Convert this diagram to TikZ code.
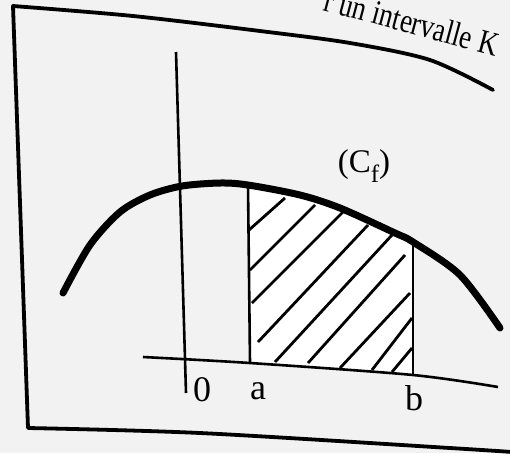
\documentclass[tikz,border=0pt]{standalone}
\usepackage{fontspec}
\setmainfont{Liberation Serif}
\newfontfamily\condensedserif[FakeStretch=0.8]{Liberation Serif}
\begin{document}
\begin{tikzpicture}[x=1pt,y=-1pt,
  frameline/.style={line width=3.8pt, line join=round, line cap=round},
  axisline/.style={line width=2.6pt},
  curveline/.style={line width=7pt, line cap=round},
  hatchline/.style={line width=2.8pt},
  lbl/.style={font=\fontsize{36}{36}\selectfont, inner sep=0pt}]
\clip (0,0) rectangle (510,453);
\fill[black!5] (0,0) rectangle (510,453);
% frame
\draw[frameline] plot[smooth] coordinates {(493,90) (430,60) (350,43) (260,31) (133,16) (13,6)}
  -- (28,428) plot[smooth] coordinates {(28,428) (200,433) (450,448) (512,452)};
% hatched region fill
\fill[white] plot[smooth] coordinates {(248,185) (300,195) (340,208) (395,233) (413,242)}
  -- (413,375) -- (250,363) -- cycle;
% hatching
\foreach \p/\q in {{(249,230)}/{(285,198)}, {(250,270)}/{(315,205)}, {(252,303)}/{(343,212)},
  {(258,342)}/{(368,225)}, {(275,362)}/{(392,235)}, {(308,363)}/{(405,255)},
  {(340,368)}/{(410,293)}, {(372,370)}/{(412,318)}, {(392,372)}/{(412,348)}}
  \draw[hatchline] \p -- \q;
% axes
\coordinate (ytop) at (176,52);
\coordinate (ybot) at (186,393);
\draw[axisline] (ytop) -- (ybot);
\draw[axisline] plot[smooth] coordinates {(143,357) (250,363) (413,375) (498,387)};
% vertical lines at a and b
\coordinate (atop) at (248,185);
\coordinate (abot) at (250,363);
\coordinate (btop) at (413,242);
\coordinate (bbot) at (413,375);
\draw[axisline] (atop) -- (abot);
\draw[axisline] (btop) -- (bbot);
% curve
\draw[curveline] plot[smooth] coordinates {(63,293) (90,245) (120,212) (150,195) (182,186)
  (220,183) (248,185) (300,195) (340,208) (395,233) (413,242) (460,275) (500,328)};
% labels
\node[lbl] (o) at (202,390) {0};
\node[lbl] (a) at (258,391) {a};
\node[lbl] (b) at (414,398) {b};
\node[inner sep=0pt, font=\fontsize{33}{33}\selectfont] (cf) at (364,166)
  {(C\raisebox{-0.32em}{\fontsize{25}{25}\selectfont f})};
\node[anchor=base west, inner sep=0pt, rotate=-15, font=\fontsize{34}{34}\condensedserif] (top) at (322,10)
  {r un intervalle K};
\end{tikzpicture}
\end{document}
